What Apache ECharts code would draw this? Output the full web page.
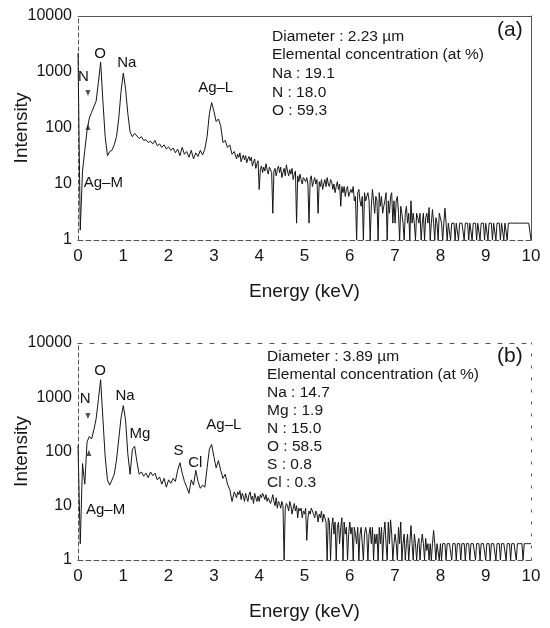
<!DOCTYPE html>
<html><head><meta charset="utf-8">
<script src="https://cdn.jsdelivr.net/npm/echarts@6/dist/echarts.min.js"></script>
<style>html,body{margin:0;padding:0;background:#fff}#c{width:550px;height:628px}</style>
</head><body><div id="c"></div>
<script>
// Low-energy part: 0.00 .. 3.45 keV, channel 0.05 keV
const lowStart = 0.0, lowStep = 0.05;
// High-energy part: 3.50 .. 10.00 keV, channel 0.025 keV
const highStart = 3.5, highStep = 0.025;

// Panel (a)
const lowA = [
 2200,1.5,17,40,90,150,190,240,300,650,
 1500,300,70,32,38,40,50,70,150,450,
 960,500,180,85,70,80,72,65,70,60,
 62,55,58,52,60,48,52,45,50,42,
 46,40,44,36,42,32,45,34,38,30,
 40,28,36,31,40,33,42,70,180,285,
 200,130,145,110,55,60,45,50,34,38
];
const highA = [
 28,34,30,36,25,29,33,27,32,24,28,31,26,30,21,25,28,19,23,26,
 8,18,21,16,20,17,23,18,15,20,19,16,3,17,19,14,18,21,16,20,
 13,16,19,14,22,17,14,18,15,19,12,15,17,2,14,11,15,12,10,13,
 14,11,13,10,2,12,14,9,11,13,10,12,3,11,9,12,8,10,12,9,
 13,10,9,12,11,8,10,7,9,11,8,10,4,9,7,9,6,8,9,6,
 6,8,7,9,5,6,1,7,8,5,4,6,1,7,5,6,7,5,1,4,
 8,5,3,6,5,1,7,4,6,3,4,5,7,1,5,3,6,7,2,5,
 2,5,6,3,1,4,3,2,1,3,4,2,3,1,5,2,3,2,1,3,
 2.5,2,3,1,2,3,1,2.5,3,2,3.8,1,2,3.5,2,1,2.5,2,1,3,
 2.5,2,1,2,3.7,2,1,2,2,1,2,2,2,1,2,2,1,2,2,2,
 2,1,2,2,2,1,2,2,1,2,2,2,1,2,2,1,2,2,2,1,
 2,2,1,2,2,2,1,2,2,1,2,2,2,1,2,2,1,2,2,1,
 2,2,2,2,2,2,2,2,2,2,2,2,2,2,2,2,2,2,2,2,1
];
// Panel (b)
const lowB = [
 130,2,60,25,150,190,170,250,400,900,
 2100,400,80,30,24,30,38,70,170,420,
 700,380,90,38,110,125,65,38,42,35,
 40,33,42,36,40,30,34,25,32,22,
 30,26,32,28,45,62,40,28,22,17,
 30,24,45,28,21,24,22,50,110,135,
 80,50,68,45,32,38,25,20,12,18
];
const highB = [
 14,18,16,19,13,17,15,12,17,14,12,16,18,13,15,11,17,14,12,15,
 12,16,14,17,15,13,16,12,14,15,11,13,16,12,10,14,9,12,11,9,
 12,10,1,9,11,10,8,12,10,7,9,11,8,10,6,9,8,9,6,8,
 7,9,2.3,6,8,7,9,8,7,6,8,7,5,7,6,8,5,7,6,5,
 1,6,5,1,4,6,3,5,1,4,5,2,4,6,1,5,3,4,1,3,
 5,3,4,1,4,3,2,4,1,3,4,2,1,3,4,3,1,3,4,2,
 4,1,3,2,3,1,4,2,4,1,3,5,2,1,5,2,5.5,3,1,2,
 3,2,1,4,2,5,1,2,3,1,2,3,1,2,4.3,2,1,3,2,1,
 2,2.5,1,2,3,2,1,2.5,1.5,2,1,2,1,2,3.5,2,1,2,2,1,
 2,1,2,2,2,1,2,2,2,2,1,2,2,2,1,2,2,2,1,2,
 2,2,1,2,2,2,1,2,2,2,2,1,2,2,2,1,2,2,2,2,
 1,2,2,2,1,2,2,2,2,1,2,2,2,1,2,2,2,2,1,2,
 2,2,1,2,2,2,2,1,2,2,2,2,2,1,2,2,2,2,2,2,2
];
const xTickValues = [0,1,2,3,4,5,6,7,8,9,10];
const yTickValues = [1,10,100,1000,10000];
const infoA = ['Diameter : 2.23 \u00b5m','Elemental concentration (at %)','Na : 19.1','N : 18.0','O : 59.3'];
const infoB = ['Diameter : 3.89 \u00b5m','Elemental concentration (at %)','Na : 14.7','Mg : 1.9','N : 15.0','O : 58.5','S : 0.8','Cl : 0.3'];
const tagA = '(a)', tagB = '(b)';
const peakNamesA = ['O','Na','N','Ag\u2013L','Ag\u2013M'];
const peakPosA = [[0.50,2090],[1.09,1430],[0.13,810],[3.05,515],[0.57,10.4]];
const peakNamesB = ['O','Na','N','Mg','S','Cl','Ag\u2013L','Ag\u2013M'];
const peakPosB = [[0.50,3000],[1.05,1040],[0.17,900],[1.38,204],[2.23,100],[2.60,61],[3.23,308],[0.62,8.3]];
const arrowsDownA = [[0.22,420]], arrowsUpA = [[0.22,104]];
const arrowsDownB = [[0.22,450]], arrowsUpB = [[0.24,94]];

const FONT = '"Liberation Sans", Arial, Helvetica, sans-serif';
const INK = '#161616';
function toPairs(low, high){
  const a = low.map((v,i)=>[+(lowStart+i*lowStep).toFixed(3), v]);
  const b = high.map((v,i)=>[+(highStart+i*highStep).toFixed(3), v]);
  return a.concat(b);
}

function bottomX(g){
  return {gridIndex:g,type:'value',min:0,max:10,interval:1,position:'bottom',
    axisLine:{onZero:false,lineStyle:{color:'#555',width:1,type:[5,3]}},
    axisTick:{show:false},splitLine:{show:false},
    axisLabel:{fontSize:17,color:INK,margin:8,fontFamily:FONT,
      formatter:v=>xTickValues.includes(Math.round(v))?String(Math.round(v)):''},
    name:'Energy (keV)',nameLocation:'middle',nameGap:42,nameMoveOverlap:false,
    nameTextStyle:{fontSize:19,color:INK,fontFamily:FONT}};
}
function topX(g,dash){
  return {gridIndex:g,type:'value',min:0,max:10,position:'top',
    axisLine:{onZero:false,lineStyle:{color:'#555',width:1,type:dash}},
    axisTick:{show:false},splitLine:{show:false},axisLabel:{show:false}};
}
function leftY(g){
  return {gridIndex:g,type:'log',logBase:10,min:1,max:10000,position:'left',
    axisLine:{onZero:false,lineStyle:{color:'#555',width:1,type:[4,3]}},
    axisTick:{show:false},splitLine:{show:false},
    axisLabel:{fontSize:16,color:INK,margin:6,fontFamily:FONT,
      formatter:v=>{const r=Math.round(v);return yTickValues.includes(r)?String(r):'';}},
    name:'Intensity',nameLocation:'middle',nameGap:47,nameMoveOverlap:false,
    nameTextStyle:{fontSize:19,color:INK,fontFamily:FONT}};
}
function rightY(g,dash){
  return {gridIndex:g,type:'value',min:0,max:1,position:'right',
    axisLine:{onZero:false,lineStyle:{color:'#555',width:1,type:dash}},
    axisTick:{show:false},splitLine:{show:false},axisLabel:{show:false}};
}
function spectrum(xi,yi,low,high){
  return {type:'line',xAxisIndex:xi,yAxisIndex:yi,data:toPairs(low,high),showSymbol:false,
    lineStyle:{color:INK,width:1},silent:true,z:3};
}
function peakLabels(xi,yi,names,pos){
  return {type:'scatter',xAxisIndex:xi,yAxisIndex:yi,
    data:pos.map((p,k)=>({value:p,name:names[k]})),
    symbolSize:1,itemStyle:{color:'rgba(255,255,255,0)'},silent:true,z:5,
    label:{show:true,position:[0,0],align:'center',verticalAlign:'middle',formatter:'{b}',
      fontSize:15,color:'#111',opacity:1,textBorderWidth:0,fontFamily:FONT}};
}
function arrows(xi,yi,pts,rot){
  return {type:'scatter',xAxisIndex:xi,yAxisIndex:yi,data:pts,symbol:'triangle',
    symbolSize:[5,6],symbolRotate:rot,itemStyle:{color:'#222'},silent:true,z:5};
}

const chart = echarts.init(document.getElementById('c'),null,{renderer:'canvas'});
chart.setOption({
  animation:false,
  backgroundColor:'#fff',
  grid:[
    {left:78,top:16,width:453,height:224,outerBoundsMode:'none',containLabel:false},
    {left:78,top:343,width:453,height:217,outerBoundsMode:'none',containLabel:false}
  ],
  xAxis:[bottomX(0),topX(0,'solid'),bottomX(1),topX(1,[4,8])],
  yAxis:[leftY(0),rightY(0,'solid'),leftY(1),rightY(1,[2,10])],
  series:[
    spectrum(0,0,lowA,highA),
    spectrum(2,2,lowB,highB),
    peakLabels(0,0,peakNamesA,peakPosA),
    peakLabels(2,2,peakNamesB,peakPosB),
    arrows(0,0,arrowsDownA,180),arrows(0,0,arrowsUpA,0),
    arrows(2,2,arrowsDownB,180),arrows(2,2,arrowsUpB,0)
  ],
  graphic:[
    {type:'text',left:272,top:27,style:{text:infoA.join('\n'),font:'15.5px '+FONT,fill:INK,lineHeight:18.7}},
    {type:'text',left:267,top:348,style:{text:infoB.join('\n'),font:'15.5px '+FONT,fill:INK,lineHeight:17.9}},
    {type:'text',left:497,top:20,style:{text:tagA,font:'21px '+FONT,fill:INK}},
    {type:'text',left:497,top:346,style:{text:tagB,font:'21px '+FONT,fill:INK}}
  ]
});
</script></body></html>
